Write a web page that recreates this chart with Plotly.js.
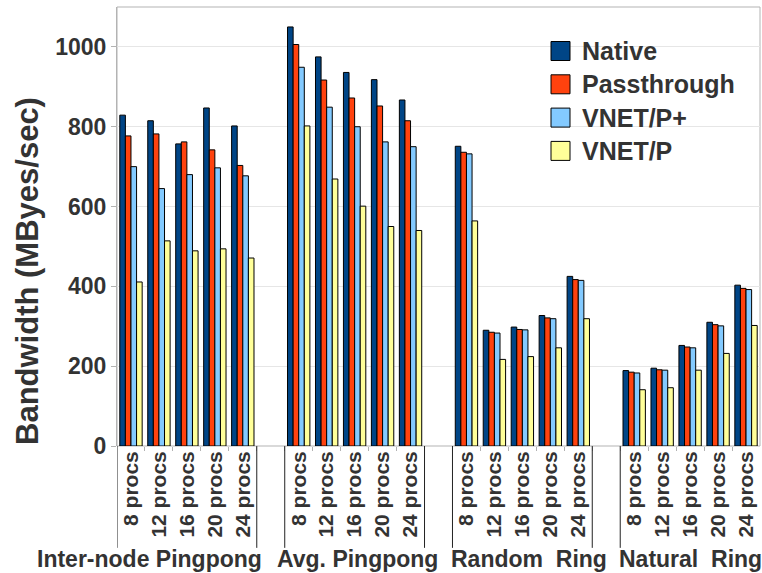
<!DOCTYPE html>
<html>
<head>
<meta charset="utf-8">
<script src="https://cdn.plot.ly/plotly-3.0.1.min.js"></script>
<style>html,body{margin:0;padding:0;background:#fff;}#chart{width:762px;height:573px;}</style>
</head>
<body>
<div id="chart"></div>
<script>
// ---- data ----
const categories = ['8 procs', '12 procs', '16 procs', '20 procs', '24 procs'];
const groups = ['Inter-node Pingpong', 'Avg. Pingpong', 'Random\u00a0\u00a0Ring', 'Natural\u00a0\u00a0Ring'];
const seriesNames = ['Native', 'Passthrough', 'VNET/P+', 'VNET/P'];
const native      = [829, 815, 757, 847, 802,  1050, 975, 936, 918, 867,  751, 290, 298, 327, 425,  189, 195, 252, 310, 403];
const passthrough = [777, 782, 762, 742, 703,  1006, 917, 872, 852, 815,  736, 285, 292, 321, 417,  185, 191, 248, 304, 395];
const vnetpPlus   = [700, 645, 680, 697, 677,   949, 849, 800, 762, 750,  732, 283, 291, 319, 415,  183, 190, 246, 301, 392];
const vnetp       = [411, 514, 489, 494, 471,   802, 669, 601, 550, 540,  564, 217, 224, 246, 319,  141, 146, 190, 232, 302];
const yTicks = [0, 200, 400, 600, 800, 1000];
const yTitle = 'Bandwidth (MByes/sec)';

// ---- styling ----
const colors = ['#004586', '#ff420e', '#83caff', '#ffff99'];
const textColor = '#333333';
const FONT = 'Liberation Sans, Arial, sans-serif';
const slot = categories.length + 1; // one empty slot between groups

const xs = [], tickText = [];
groups.forEach((g, gi) => categories.forEach((c, ci) => { xs.push(gi * slot + ci); tickText.push(c); }));
const nSlots = groups.length * slot - 1;
const boundaries = [];
for (let k = 0; k < nSlots - 1; k++) boundaries.push(k + 0.5);

const seriesValues = [native, passthrough, vnetpPlus, vnetp];
const traces = seriesValues.map((vals, si) => ({
  type: 'bar', name: seriesNames[si], x: xs, y: vals,
  marker: { color: colors[si], line: { color: '#000000', width: 1 } },
  showlegend: false, hoverinfo: 'x+y+name'
}));

const shapes = [];
// plot frame
shapes.push({ type: 'rect', xref: 'paper', yref: 'paper', x0: 0, x1: 1, y0: 0, y1: 1,
  line: { color: '#b3b3b3', width: 1 }, layer: 'below' });
// group separator lines below axis
groups.forEach((g, gi) => {
  const edges = [gi * slot - 0.5];
  if (gi < groups.length - 1) edges.push(gi * slot + categories.length - 0.5);
  edges.forEach(e => shapes.push({ type: 'line', xref: 'x', yref: 'paper', x0: e, x1: e, y0: 0, y1: -0.232,
    line: { color: '#222222', width: 1 } }));
});

const W = 762 - 117 - 2, H = 446 - 7;
const annotations = [];
// group labels
const groupShift = [-37, 3, 7, 0];
groups.forEach((g, gi) => annotations.push({
  text: g, xref: 'x', yref: 'paper', x: gi * slot + (categories.length - 1) / 2, y: -0.257,
  xanchor: 'center', yanchor: 'middle', showarrow: false, xshift: groupShift[gi],
  font: { family: FONT, size: 23, color: textColor, weight: 'bold' }
}));

// y-axis title (placed like the reference, below centre)
annotations.push({
  text: yTitle, xref: 'paper', yref: 'paper', x: (27 - 117) / W, y: (446 - 271) / H,
  xanchor: 'center', yanchor: 'middle', textangle: -90, showarrow: false,
  font: { family: FONT, size: 31, color: textColor, weight: 'bold' }
});

// custom legend (large swatches)
const legX = (551 - 117) / W, swW = 19 / W, swH = 19 / H;
const legTextX = (580 - 117) / W;
const legY0 = (446 - 51) / H, legStep = 33.3 / H;
seriesNames.forEach((n, si) => {
  const yc = legY0 - si * legStep;
  shapes.push({ type: 'rect', xref: 'paper', yref: 'paper', x0: legX, x1: legX + swW, y0: yc - swH / 2, y1: yc + swH / 2,
    fillcolor: colors[si], line: { color: '#000000', width: 1 } });
  annotations.push({ text: n, xref: 'paper', yref: 'paper', x: legTextX, y: yc, xanchor: 'left', yanchor: 'middle',
    showarrow: false, font: { family: FONT, size: 25, color: textColor, weight: 'bold' } });
});

const layout = {
  width: 762, height: 573,
  margin: { l: 117, r: 2, t: 7, b: 127, pad: 0 },
  paper_bgcolor: '#ffffff', plot_bgcolor: '#ffffff',
  barmode: 'group', bargap: 0.2, bargroupgap: 0,
  font: { family: FONT, color: textColor },
  xaxis: {
    range: [-0.5, nSlots - 0.5], tickmode: 'array', tickvals: xs, ticktext: tickText,
    tickangle: -90, ticks: '', showgrid: false, zeroline: false, showline: false,
    tickfont: { family: FONT, size: 21, color: textColor, weight: 'bold' }, fixedrange: true
  },
  xaxis2: {
    overlaying: 'x', anchor: 'y', side: 'bottom', range: [-0.5, nSlots - 0.5],
    tickmode: 'array', tickvals: boundaries, showticklabels: false,
    ticks: 'outside', ticklen: 4, tickcolor: '#b3b3b3', showgrid: false, zeroline: false, showline: false
  },
  yaxis: {
    range: [0, 1100], tickmode: 'array', tickvals: yTicks,
    ticks: 'outside', ticklen: 5, tickcolor: '#b3b3b3',
    showgrid: true, gridcolor: '#e6e6e6', gridwidth: 1, zeroline: false,
    showline: true, linecolor: '#b3b3b3',
    tickfont: { family: FONT, size: 23, color: textColor, weight: 'bold' }
  },
  shapes: shapes, annotations: annotations
};
// empty trace to activate xaxis2 (boundary tick marks)
traces.push({ type: 'scatter', x: [], y: [], xaxis: 'x2', yaxis: 'y', showlegend: false, hoverinfo: 'skip' });

Plotly.newPlot('chart', traces, layout, { displayModeBar: false, staticPlot: true });
</script>
</body>
</html>
